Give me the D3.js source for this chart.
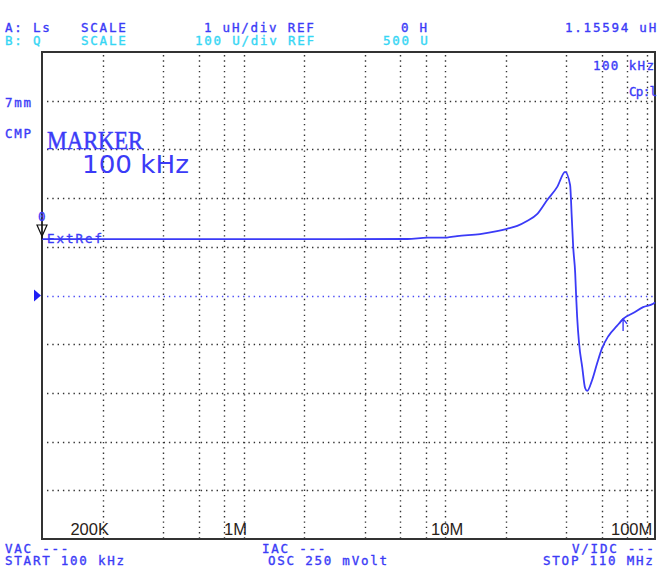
<!DOCTYPE html>
<html>
<head>
<meta charset="utf-8">
<script src="https://cdn.jsdelivr.net/npm/d3@7/dist/d3.min.js"></script>
<style>
  body { margin: 0; background: #fff; }
  svg { display: block; }
  .mono { font-family: "DejaVu Sans Mono", "Liberation Mono", monospace; font-size: 12.5px; letter-spacing: 1.77px; }
  .grid line { stroke: #333; stroke-width: 1.4; stroke-dasharray: 1.4 3.9; }
</style>
</head>
<body>
<div id="svgDiv"></div>
<script>
// data: Ls trace (freq in MHz, inductance in uH)
var freqMHz = [0.1, 0.3, 1, 3, 6.5, 8.14, 10.2, 11.47, 14.92, 18.1, 20.3, 22.8, 25.5, 28.6, 32.1, 36.0,
               39.4, 41.7, 42.5, 43.2, 44.2, 44.7, 45.2, 46.2, 47.9, 49.5, 50.7, 53.6, 56.8, 60.1,
               64.4, 71.4, 76.4, 85.7, 96.0, 107.7, 110];
var lsValues = [1.156, 1.156, 1.156, 1.156, 1.16, 1.187, 1.19, 1.22, 1.26, 1.32, 1.37, 1.43, 1.53, 1.67, 1.96, 2.23,
                2.54, 2.27, 1.61, 1.00, 0.46, -0.03, -0.44, -0.98, -1.47, -1.90, -1.96, -1.74, -1.39, -1.08,
                -0.84, -0.62, -0.48, -0.36, -0.24, -0.17, -0.14];
var markerFreq = 76.4;
// grid
var gridFreqs = [0.2, 0.4, 0.6, 0.8, 1, 2, 4, 6, 8, 10, 20, 40, 60, 80, 100];
var gridLevels = [-4, -3, -2, -1, 1, 2, 3, 4];
// tick labels
var tickLabels = ["200K", "1M", "10M", "100M"];
var tickFreqs = [0.2, 1, 10, 100];
var tickShift = [-13, -8, 2, -15];

var width = 661, height = 567;
var plot = { left: 42, right: 655, top: 52, bottom: 539 };
var blue = "#3b3bf7", cyan = "#36d6f4";

var svg = d3.select("#svgDiv").append("svg")
    .attr("width", width).attr("height", height);
svg.append("rect").attr("width", width).attr("height", height).attr("fill", "#fff");

var xScale = d3.scaleLog().domain([0.1, 110]).range([plot.left, plot.right]);
var yScale = d3.scaleLinear().domain([-5, 5]).range([plot.bottom, plot.top]);

// grid lines
var grid = svg.append("g").attr("class", "grid");
grid.selectAll(".v").data(gridFreqs).enter().append("line")
    .attr("x1", d => Math.round(xScale(d)) + 0.5).attr("x2", d => Math.round(xScale(d)) + 0.5)
    .attr("y1", plot.top + 3).attr("y2", plot.bottom);
grid.selectAll(".h").data(gridLevels).enter().append("line")
    .attr("x1", plot.left + 5).attr("x2", plot.right)
    .attr("y1", d => Math.round(yScale(d)) + 0.5).attr("y2", d => Math.round(yScale(d)) + 0.5);
// centre (reference) line in blue
svg.append("line")
    .attr("x1", plot.left + 5).attr("x2", plot.right)
    .attr("y1", Math.round(yScale(0)) + 0.5).attr("y2", Math.round(yScale(0)) + 0.5)
    .attr("stroke", "#4a4af5").attr("stroke-width", 1.4).attr("stroke-dasharray", "1.4 3.9");

// frame
svg.append("rect")
    .attr("x", plot.left).attr("y", plot.top)
    .attr("width", plot.right - plot.left).attr("height", plot.bottom - plot.top)
    .attr("fill", "none").attr("stroke", "#333").attr("stroke-width", 2);

// tick labels
svg.selectAll(".tick").data(tickLabels).enter().append("text")
    .attr("x", (d, i) => xScale(tickFreqs[i]) + tickShift[i])
    .attr("y", 535)
    .attr("text-anchor", "middle")
    .style("font-family", "Liberation Sans, Arial, sans-serif")
    .style("font-size", "16.5px")
    .attr("fill", "#2a2218")
    .text(d => d);

// Ls trace
var line = d3.line()
    .x((d, i) => xScale(freqMHz[i]))
    .y(d => yScale(d))
    .curve(d3.curveMonotoneX);
svg.append("path")
    .datum(lsValues)
    .attr("d", line)
    .attr("fill", "none")
    .attr("stroke", blue)
    .attr("stroke-width", 1.8);

// marker arrow on curve
var mi = freqMHz.indexOf(markerFreq);
var mx = xScale(markerFreq), my = yScale(lsValues[mi]);
svg.append("path")
    .attr("d", `M${mx},${my + 12}L${mx},${my}M${mx - 4},${my + 5}L${mx},${my}L${mx + 4},${my + 5}`)
    .attr("fill", "none").attr("stroke", blue).attr("stroke-width", 1.4);

// reference markers on the left
var refY = yScale(lsValues[0]);
var mono = function (x, y, txt, color, len) {
    var t = svg.append("text").attr("class", "mono").attr("x", x).attr("y", y)
        .attr("fill", color).attr("stroke", color).attr("stroke-width", 0.35)
        .attr("xml:space", "preserve").style("white-space", "pre").text(txt);
    if (len) t.attr("textLength", len).attr("lengthAdjust", "spacing").style("letter-spacing", "0");
    return t;
};
mono(38, 221, "0", blue);
svg.append("path")
    .attr("d", `M37,225L47,225L42,${refY - 3}Z M42,${refY - 3}L42,${refY}`)
    .attr("fill", "none").attr("stroke", "#111").attr("stroke-width", 1.2);
mono(47, 243, "ExtRef", blue, 55);
svg.append("path")
    .attr("d", `M34,${yScale(0) - 6}L41,${yScale(0)}L34,${yScale(0) + 6}Z`)
    .attr("fill", "#1f1ff5");

// header texts
mono(5, 32, "A: Ls", blue);
mono(81, 32, "SCALE", blue);
mono(204, 32, "1 uH/div REF", blue);
mono(401, 32, "0 H", blue);
mono(565, 32, "1.15594 uH", blue);
mono(5, 45, "B: Q", cyan);
mono(81, 45, "SCALE", cyan);
mono(195, 45, "100 U/div REF", cyan);
mono(383, 45, "500 U", cyan);
mono(593, 70, "100 kHz", blue, 61);
mono(629, 96, "Cp:l", blue, 28);
mono(5, 107, "7mm", blue);
mono(5, 138, "CMP", blue);
// footer
mono(5, 553, "VAC ---", blue);
mono(5, 565, "START 100 kHz", blue);
mono(262, 553, "IAC ---", blue);
mono(268, 565, "OSC 250 mVolt", blue);
mono(572, 553, "V/IDC ---", blue);
mono(543, 565, "STOP 110 MHz", blue);

// marker annotation
svg.append("text").attr("x", 47).attr("y", 149)
    .style("font-family", "Liberation Serif, Times New Roman, serif").style("font-size", "25px")
    .attr("textLength", 96).attr("lengthAdjust", "spacingAndGlyphs")
    .attr("fill", blue).attr("stroke", blue).attr("stroke-width", 0.5).text("MARKER");
svg.append("text").attr("x", 82).attr("y", 173)
    .style("font-family", "DejaVu Sans, sans-serif").style("font-size", "25px")
    .attr("textLength", 107).attr("lengthAdjust", "spacingAndGlyphs")
    .attr("fill", blue).attr("xml:space", "preserve").style("white-space", "pre").text("100 kHz");
</script>
</body>
</html>
